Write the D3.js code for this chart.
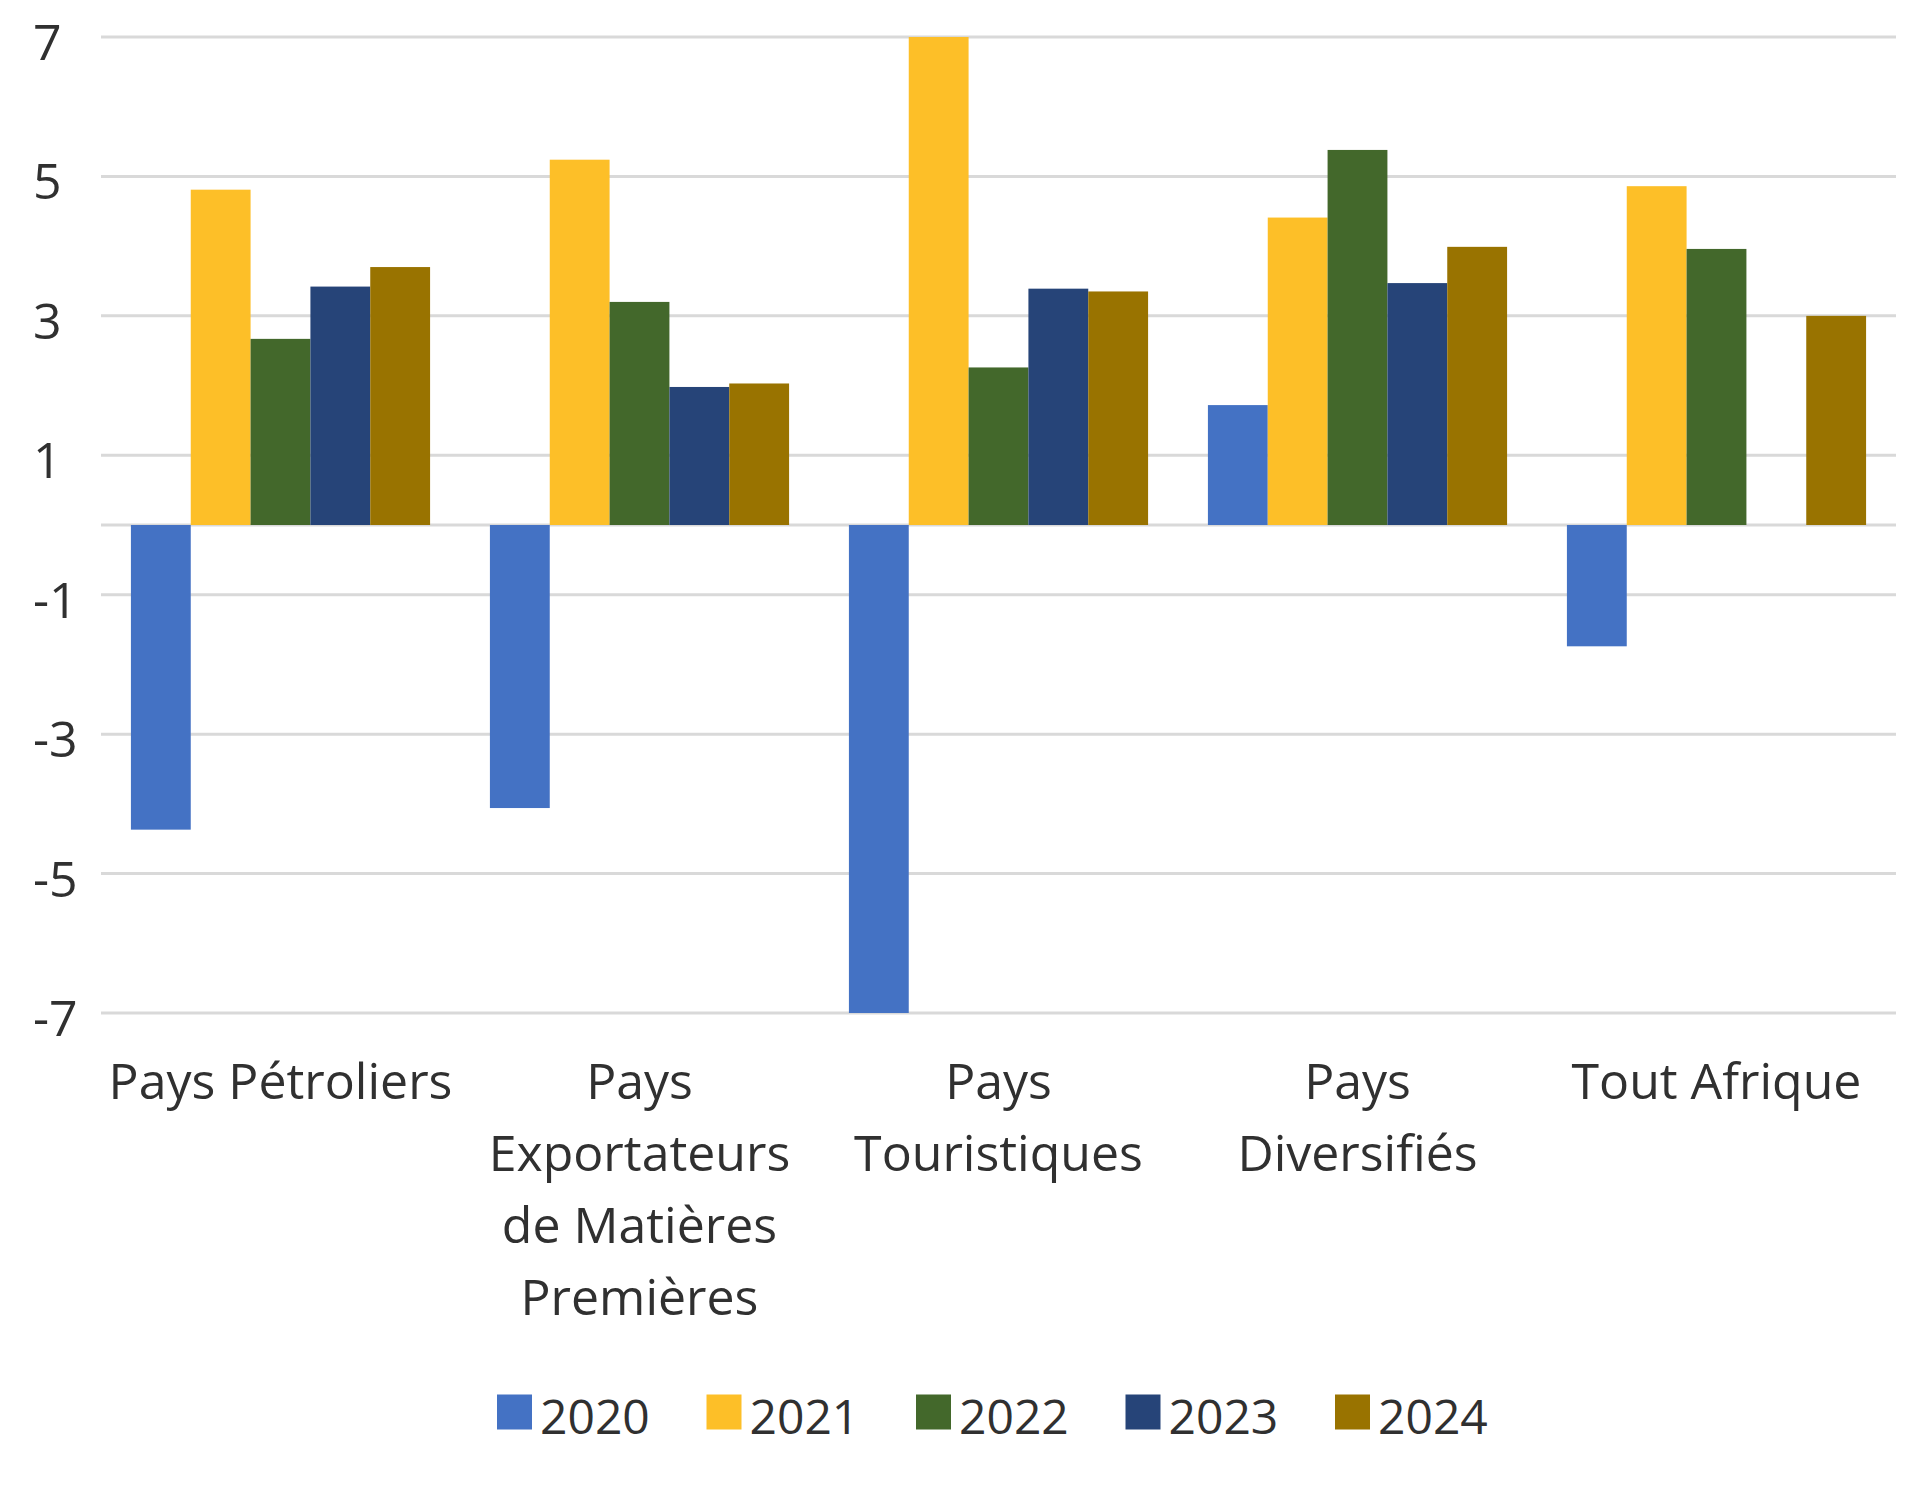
<!DOCTYPE html>
<html>
<head>
<meta charset="utf-8">
<script src="https://cdn.jsdelivr.net/npm/d3@7/dist/d3.min.js"></script>
<style>
  html, body { margin: 0; padding: 0; background: #ffffff; }
  svg { display: block; }
  text { font-family: "Open Sans", "Noto Sans", sans-serif; fill: #303030; }
</style>
</head>
<body>
<svg id="chart" width="1920" height="1489"></svg>
<script>
const categories = [
  "Pays Pétroliers",
  "Pays\nExportateurs\nde Matières\nPremières",
  "Pays\nTouristiques",
  "Pays\nDiversifiés",
  "Tout Afrique"
];
const seriesNames = ["2020", "2021", "2022", "2023", "2024"];
const seriesColors = ["#4472C4", "#FDBF28", "#43682B", "#264478", "#997300"];
const values2020 = [-4.37, -4.06, -7.0, 1.72, -1.74];
const values2021 = [4.81, 5.24, 7.0, 4.41, 4.86];
const values2022 = [2.67, 3.2, 2.26, 5.38, 3.96];
const values2023 = [3.42, 1.98, 3.39, 3.47, null];
const values2024 = [3.7, 2.03, 3.35, 3.99, 3.0];
const yTicks = [7, 5, 3, 1, -1, -3, -5, -7];

const seriesValues = [values2020, values2021, values2022, values2023, values2024];
const data = categories.map((c, i) => ({
  cat: c,
  vals: seriesNames.map((s, j) => ({ series: s, idx: j, value: seriesValues[j][i] }))
}));

const svg = d3.select("#chart");
const W = 1920, H = 1489;
svg.append("rect").attr("width", W).attr("height", H).attr("fill", "#fff");

const plotLeft = 101, plotRight = 1896, plotTop = 37, plotBottom = 1013;
const fontSize = 50;

const x0 = d3.scaleBand().domain(categories).range([plotLeft, plotRight]).padding(0);
const bw = x0.bandwidth();
const x1 = d3.scaleBand().domain(seriesNames).range([bw / 12, bw - bw / 12]).padding(0);
const y = d3.scaleLinear().domain([-7, 7]).range([plotBottom, plotTop]);

// gridlines
const grid = svg.append("g");
grid.selectAll("line.grid").data(yTicks).join("line")
  .attr("x1", plotLeft).attr("x2", plotRight)
  .attr("y1", d => y(d)).attr("y2", d => y(d))
  .attr("stroke", "#D9D9D9").attr("stroke-width", 3);
// zero axis line
grid.append("line")
  .attr("x1", plotLeft).attr("x2", plotRight)
  .attr("y1", y(0)).attr("y2", y(0))
  .attr("stroke", "#D9D9D9").attr("stroke-width", 3);

// y tick labels
svg.append("g").selectAll("text").data(yTicks).join("text")
  .attr("x", 33)
  .attr("y", d => y(d) + 4)
  .attr("dominant-baseline", "central")
  .attr("font-size", fontSize)
  .text(d => d);

// bars
const groups = svg.append("g").selectAll("g").data(data).join("g")
  .attr("transform", d => `translate(${x0(d.cat)},0)`);
groups.selectAll("rect").data(d => d.vals.filter(v => v.value !== null)).join("rect")
  .attr("x", d => x1(d.series))
  .attr("width", x1.bandwidth())
  .attr("y", d => y(Math.max(0, d.value)))
  .attr("height", d => Math.abs(y(d.value) - y(0)))
  .attr("fill", d => seriesColors[d.idx]);

// category labels
const lineH = 72;
const catG = svg.append("g");
categories.forEach(c => {
  const lines = c.split("\n");
  const t = catG.append("text")
    .attr("text-anchor", "middle")
    .attr("font-size", fontSize);
  lines.forEach((ln, i) => {
    t.append("tspan")
      .attr("x", x0(c) + bw / 2)
      .attr("y", 1080 + i * lineH)
      .attr("dominant-baseline", "central")
      .text(ln);
  });
});

// legend
const legendCenter = 994, pitch = 209.5, legendY = 1412, sq = 35;
const legend = svg.append("g");
seriesNames.forEach((s, i) => {
  const lx = legendCenter + (i - 2) * pitch - 78;
  legend.append("rect")
    .attr("x", lx).attr("y", legendY - sq / 2)
    .attr("width", sq).attr("height", sq)
    .attr("fill", seriesColors[i]);
  legend.append("text")
    .attr("x", lx + sq + 8).attr("y", legendY + 3)
    .attr("dominant-baseline", "central")
    .attr("font-size", 48)
    .text(s);
});
</script>
</body>
</html>
